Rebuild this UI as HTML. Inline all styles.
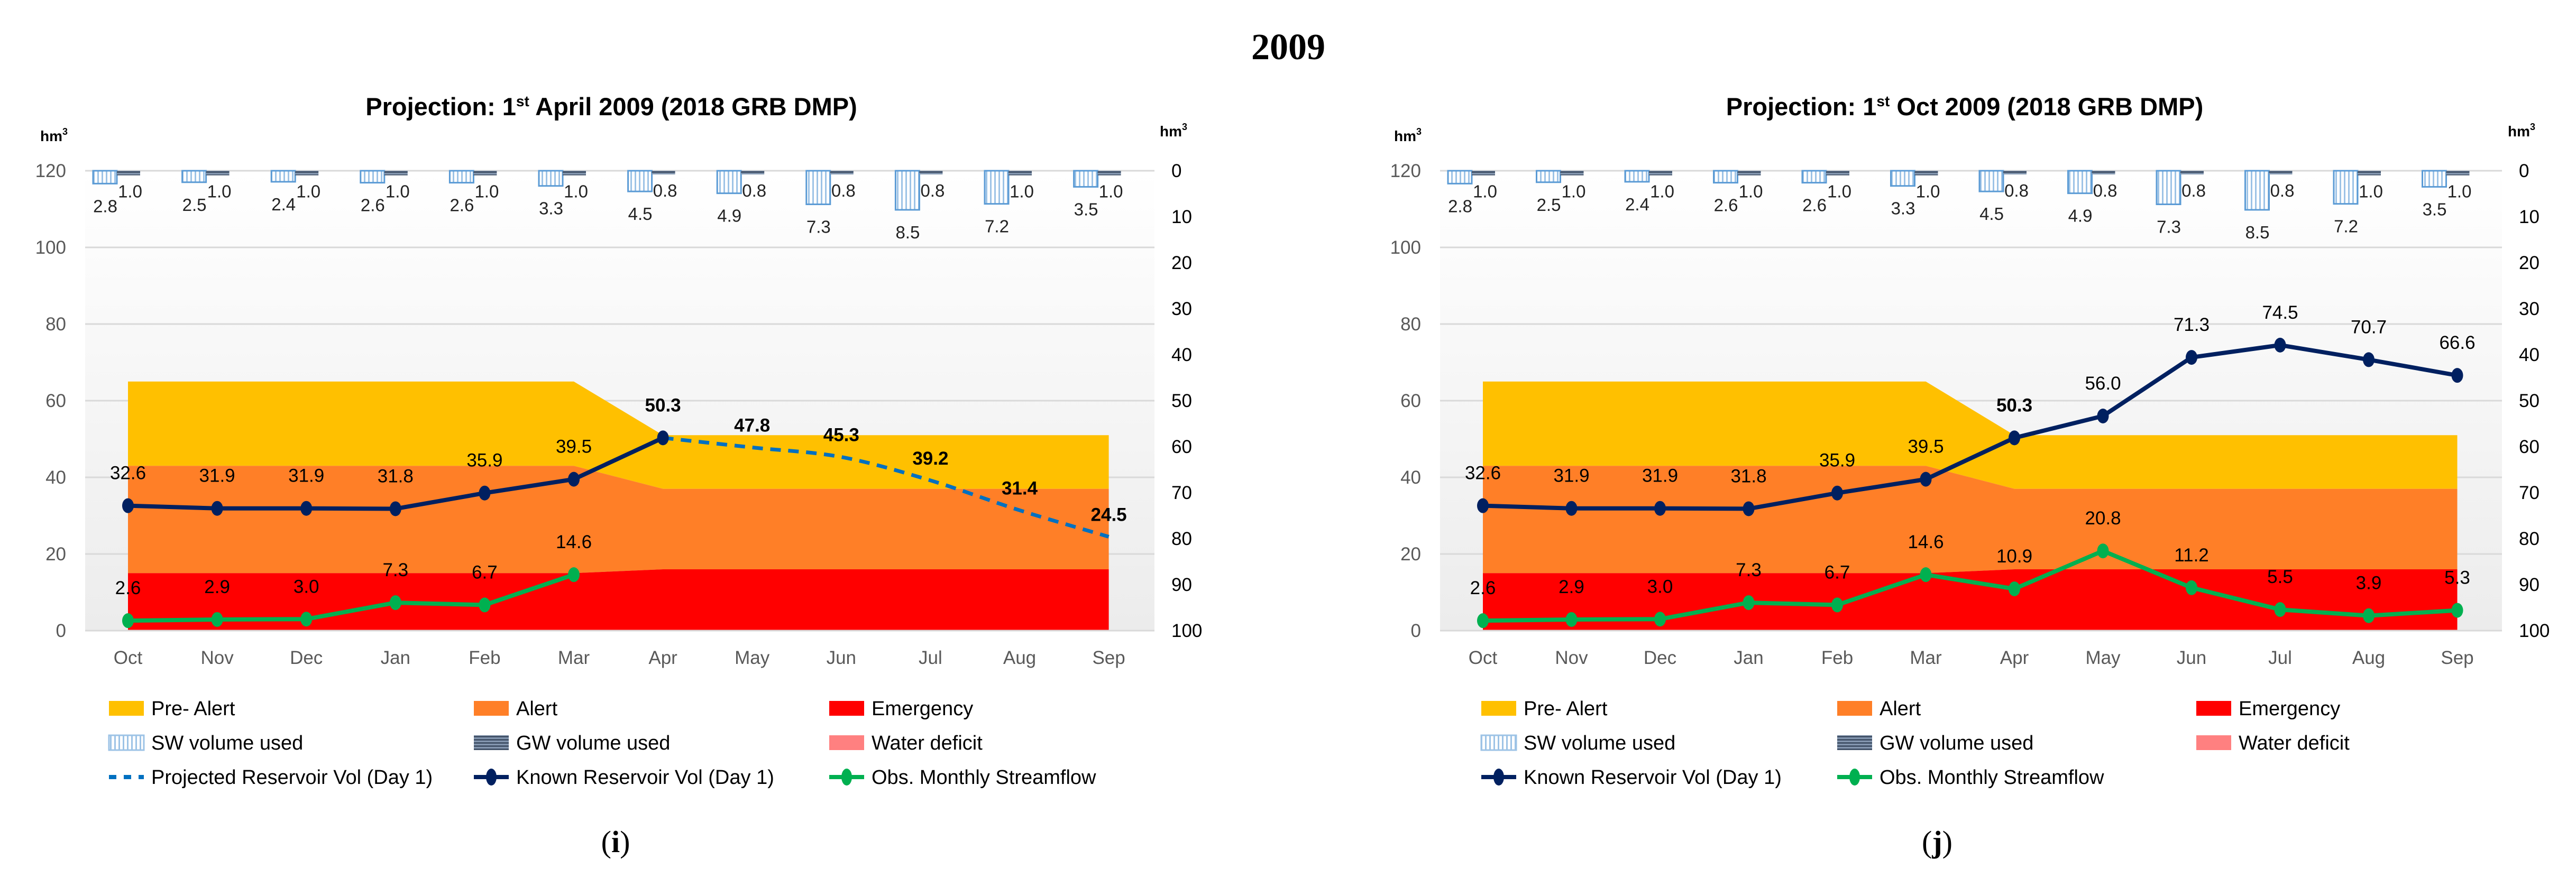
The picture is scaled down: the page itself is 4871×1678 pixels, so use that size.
<!DOCTYPE html>
<html><head><meta charset="utf-8"><style>
html,body{margin:0;padding:0;background:#fff;}
svg{display:block;}
text{font-family:"Liberation Sans Narrow","Liberation Sans",sans-serif;}
</style></head><body>
<svg id="fig" width="4871" height="1678" viewBox="0 0 4871 1678" xmlns="http://www.w3.org/2000/svg">
<defs>
<linearGradient id="bg" x1="0" y1="0" x2="0" y2="1">
<stop offset="0" stop-color="#ffffff"/><stop offset="1" stop-color="#ececec"/></linearGradient>
<pattern id="swpat" width="8" height="8" patternUnits="userSpaceOnUse">
<rect width="8" height="8" fill="#ffffff"/><rect x="0" width="3" height="8" fill="#9dc3e6"/></pattern>
<pattern id="gwpat" width="8" height="6" patternUnits="userSpaceOnUse">
<rect width="8" height="6" fill="#8497b0"/><rect y="0" width="8" height="3" fill="#44546a"/></pattern>
</defs>
<text x="2436" y="112" text-anchor="middle" font-size="70" font-weight="bold" style="font-family:'Liberation Serif',serif">2009</text>
</svg>
<script>
// ---- shared data ----
const months = ["Oct","Nov","Dec","Jan","Feb","Mar","Apr","May","Jun","Jul","Aug","Sep"];
const yTicks = [0,20,40,60,80,100,120];
const y2Ticks = [0,10,20,30,40,50,60,70,80,90,100];
const preAlert = [65,65,65,65,65,65,51,51,51,51,51,51];
const alertLvl = [43,43,43,43,43,43,37,37,37,37,37,37];
const emergency = [15,15,15,15,15,15,16,16,16,16,16,16];
const swUsed = [2.8,2.5,2.4,2.6,2.6,3.3,4.5,4.9,7.3,8.5,7.2,3.5];
const gwUsed = [1.0,1.0,1.0,1.0,1.0,1.0,0.8,0.8,0.8,0.8,1.0,1.0];
// chart i
const knownI = [32.6,31.9,31.9,31.8,35.9,39.5,50.3];
const projectedI = [null,null,null,null,null,null,50.3,47.8,45.3,39.2,31.4,24.5];
const flowI = [2.6,2.9,3.0,7.3,6.7,14.6];
// chart j
const knownJ = [32.6,31.9,31.9,31.8,35.9,39.5,50.3,56.0,71.3,74.5,70.7,66.6];
const flowJ = [2.6,2.9,3.0,7.3,6.7,14.6,10.9,20.8,11.2,5.5,3.9,5.3];

const NS="http://www.w3.org/2000/svg";
const svg=document.getElementById('fig');
function mk(tag,attrs,parent,txt){const e=document.createElementNS(NS,tag);for(const k in attrs)e.setAttribute(k,attrs[k]);if(txt!==undefined)e.textContent=txt;(parent||svg).appendChild(e);return e;}

function drawChart(o){
  const g=mk('g',{});
  
  
  const yTop=323,yBot=1193;
  const X=i=>o.x0+i*o.step;
  const Y=v=>yBot-(v/120)*(yBot-yTop);
  const Y2=v=>yTop+(v/100)*(yBot-yTop);
  const bgr=mk('rect',{x:o.gx0,y:yTop,width:o.gx1-o.gx0,height:yBot-yTop,fill:'url(#bg)'},g);
  
  
  yTicks.forEach(t=>{
    const l=mk('line',{x1:o.gx0,x2:o.gx1,y1:Y(t),y2:Y(t),stroke:'#d9d9d9','stroke-width':3},g);
    
    
    const tx=mk('text',{x:o.gx0-36,y:Y(t)+12,'text-anchor':'end','font-size':35,fill:'#595959'},g,String(t));
    
    
  });
  y2Ticks.forEach(t=>{
    const tx=mk('text',{x:o.gx1+32,y:Y2(t)+12,'text-anchor':'start','font-size':35,fill:'#000'},g,String(t));
    
    
  });
  function band(top,bot,fill,name){
    let d='M'+X(0)+','+Y(top[0]);
    top.forEach((v,i)=>{d+=' L'+X(i)+','+Y(v);});
    for(let i=bot.length-1;i>=0;i--) d+=' L'+X(i)+','+Y(bot[i]);
    d+='Z';
    const p=mk('path',{d:d,fill:fill},g);
    
    
  }
  const zeros=months.map(()=>0);
  band(preAlert,alertLvl,'#ffc000','pre-alert-band');
  band(alertLvl,emergency,'#ff7f27','alert-band');
  band(emergency,zeros,'#ff0000','emergency-band');
  months.forEach((m,i)=>{
    const c=X(i);
    const sw=mk('rect',{x:c-66,y:yTop,width:45,height:Y2(swUsed[i])-yTop,fill:'url(#swpat)',stroke:'#5b9bd5','stroke-width':3},g);
    
    
    const gw=mk('rect',{x:c-21,y:yTop,width:44,height:Y2(gwUsed[i])-yTop,fill:'url(#gwpat)'},g);
    
    
    const t1=mk('text',{x:c-43,y:Y2(swUsed[i])+54,'text-anchor':'middle','font-size':33,fill:'#222'},g,swUsed[i].toFixed(1));
    
    
    const t2=mk('text',{x:c+4,y:Y2(gwUsed[i])+42,'text-anchor':'middle','font-size':33,fill:'#222'},g,gwUsed[i].toFixed(1));
    
    
    const ml=mk('text',{x:c,y:1256,'text-anchor':'middle','font-size':35,fill:'#595959'},g,m);
    
    
  });
  const ax=mk('line',{x1:o.gx0,x2:o.gx1,y1:yBot,y2:yBot,stroke:'#d9d9d9','stroke-width':3},g);
  
  
  if(o.projected){
    const pts=[];o.projected.forEach((v,i)=>{if(v!==null)pts.push([X(i),Y(v)]);});
    let d='M'+pts[0][0]+','+pts[0][1];
    for(let i=0;i<pts.length-1;i++){
      const p0=pts[Math.max(0,i-1)],p1=pts[i],p2=pts[i+1],p3=pts[Math.min(pts.length-1,i+2)];
      const c1=[p1[0]+(p2[0]-p0[0])/6,p1[1]+(p2[1]-p0[1])/6],c2=[p2[0]-(p3[0]-p1[0])/6,p2[1]-(p3[1]-p1[1])/6];
      d+=' C'+c1+' '+c2+' '+p2;
    }
    const pl=mk('path',{d:d,fill:'none',stroke:'#0070c0','stroke-width':7,'stroke-dasharray':'20 14'},g);
    
    
    o.projected.forEach((v,i)=>{if(v===null||i===o.known.length-1)return;
      const t=mk('text',{x:X(i),y:Y(v)-30,'text-anchor':'middle','font-size':35,'font-weight':'bold',fill:'#000'},g,v.toFixed(1));
      
      
    });
  }
  function series(vals,color,name,dy,bold){
    const pts=vals.map((v,i)=>X(i)+','+Y(v)).join(' ');
    const pl=mk('polyline',{points:pts,fill:'none',stroke:color,'stroke-width':8,'stroke-linejoin':'round'},g);
    
    
    vals.forEach((v,i)=>{
      const c=mk('ellipse',{cx:X(i),cy:Y(v),rx:11,ry:14,fill:color},g);
      
      
      const t=mk('text',{x:X(i),y:Y(v)-dy,'text-anchor':'middle','font-size':35,'font-weight':(bold&&i===6)?'bold':'normal',fill:'#000'},g,v.toFixed(1));
      
      
    });
  }
  series(o.flow,'#00b050','streamflow',50,false);
  series(o.known,'#002060','known-reservoir',50,true);
  const tt=mk('text',{x:o.tx,y:218,'text-anchor':'middle','font-size':47,'font-weight':'bold',fill:'#000'},g);
  
  
  tt.appendChild(document.createTextNode('Projection: 1'));
  mk('tspan',{'font-size':28,dy:-17},tt,'st');
  mk('tspan',{dy:17},tt,' '+o.title);
  [[o.hmL,267],[o.hmR,258]].forEach(([hx,hy],k)=>{
    const h=mk('text',{x:hx,y:hy,'text-anchor':'middle','font-size':28,'font-weight':'bold',fill:'#000'},g);
    
    
    h.appendChild(document.createTextNode('hm'));
    mk('tspan',{'font-size':18,dy:-12},h,'3');
  });
  const cols=o.legendCols, rows=[1340,1405,1470];
  o.legend.forEach((it,k)=>{
    const cx=cols[k%3], cy=rows[Math.floor(k/3)];
    const lg=mk('g',{},g);
    
    
    if(it.type==='box'){
      mk('rect',{x:cx,y:cy-14,width:66,height:28,fill:it.fill,stroke:it.stroke||'none','stroke-width':3},lg);
    }else if(it.type==='dash'){
      mk('line',{x1:cx,x2:cx+66,y1:cy,y2:cy,stroke:it.fill,'stroke-width':8,'stroke-dasharray':'14 14'},lg);
    }else{
      mk('line',{x1:cx,x2:cx+66,y1:cy,y2:cy,stroke:it.fill,'stroke-width':8},lg);
      mk('ellipse',{cx:cx+33,cy:cy,rx:10,ry:16,fill:it.fill},lg);
    }
    mk('text',{x:cx+80,y:cy+13,'font-size':38,fill:'#000'},lg,it.label);
  });
  const cap=mk('text',{x:o.capX,y:1612,'text-anchor':'middle','font-size':58,fill:'#000',style:"font-family:'Liberation Serif',serif"},g);
  
  
  cap.appendChild(document.createTextNode('('));
  mk('tspan',{'font-weight':'bold'},cap,o.cap);
  cap.appendChild(document.createTextNode(')'));
}
const baseLegend=[
 {key:'pre-alert',type:'box',fill:'#ffc000',label:'Pre- Alert'},
 {key:'alert',type:'box',fill:'#ff7f27',label:'Alert'},
 {key:'emergency',type:'box',fill:'#ff0000',label:'Emergency'},
 {key:'sw-volume',type:'box',fill:'url(#swpat)',stroke:'#9dc3e6',label:'SW volume used'},
 {key:'gw-volume',type:'box',fill:'url(#gwpat)',label:'GW volume used'},
 {key:'water-deficit',type:'box',fill:'#ff8080',label:'Water deficit'}];
drawChart({name:'chart-april-projection',x0:242,step:168.6,gx0:161,gx1:2183,tx:1156,title:'April 2009 (2018 GRB DMP)',
  hmL:102,hmR:2219,known:knownI,flow:flowI,projected:projectedI,legendCols:[206,896,1568],capX:1164,cap:'i',
  legend:baseLegend.concat([{key:'projected-reservoir',type:'dash',fill:'#0070c0',label:'Projected Reservoir Vol (Day 1)'},
   {key:'known-reservoir',type:'line',fill:'#002060',label:'Known Reservoir Vol (Day 1)'},
   {key:'streamflow',type:'line',fill:'#00b050',label:'Obs. Monthly Streamflow'}])});
drawChart({name:'chart-october-projection',x0:2804,step:167.5,gx0:2723,gx1:4731,tx:3715,title:'Oct 2009 (2018 GRB DMP)',
  hmL:2662,hmR:4768,known:knownJ,flow:flowJ,projected:null,legendCols:[2801,3474,4153],capX:3663,cap:'j',
  legend:baseLegend.concat([{key:'known-reservoir',type:'line',fill:'#002060',label:'Known Reservoir Vol (Day 1)'},
   {key:'streamflow',type:'line',fill:'#00b050',label:'Obs. Monthly Streamflow'}])});
</script>
</body></html>
